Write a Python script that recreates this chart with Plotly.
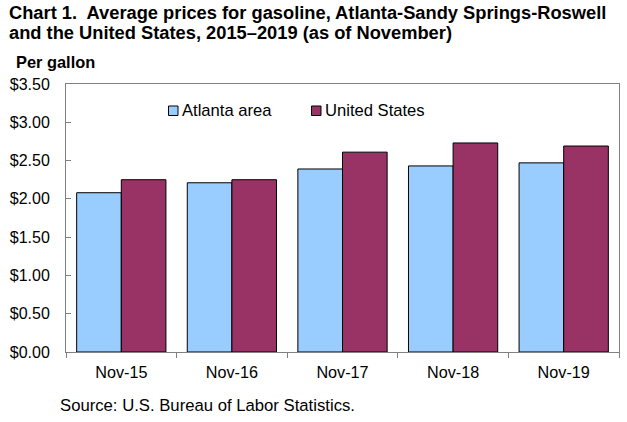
import plotly.graph_objects as go

categories = ["Nov-15", "Nov-16", "Nov-17", "Nov-18", "Nov-19"]
atlanta = [2.08, 2.21, 2.39, 2.43, 2.47]
us = [2.25, 2.25, 2.61, 2.73, 2.69]
series_names = ["Atlanta area", "United States"]
series_colors = ["#99CCFF", "#993366"]
tick_vals = [0, 0.5, 1, 1.5, 2, 2.5, 3, 3.5]
tick_text = ["$0.00", "$0.50", "$1.00", "$1.50", "$2.00", "$2.50", "$3.00", "$3.50"]
FONT = "Liberation Sans, Arial, sans-serif"
W, H = 627, 422
L, R, T, B = 66, 8, 84, 70
GRAY = "#808080"

def px(x):
    return (x - L) / (W - L - R)

def py(y):
    return 1 - (y - T) / (H - T - B)

def label(text, x, y, size, anchor="left"):
    return dict(text=text, xref="paper", yref="paper", x=px(x), y=py(y), xanchor=anchor,
                yanchor="middle", showarrow=False, align="left", font=dict(size=size, color="#000000"),
                borderpad=0)

fig = go.Figure()
fig.add_trace(go.Bar(x=categories, y=atlanta, name=series_names[0],
                     marker=dict(color=series_colors[0], line=dict(color="#000000", width=1))))
fig.add_trace(go.Bar(x=categories, y=us, name=series_names[1],
                     marker=dict(color=series_colors[1], line=dict(color="#000000", width=1))))

shapes = []
for x0, col in zip([168.5, 311.5], series_colors):
    shapes.append(dict(type="rect", xref="paper", yref="paper", x0=px(x0), x1=px(x0 + 9.5),
                       y0=py(115.5), y1=py(106), fillcolor=col, line=dict(color="#000000", width=1)))

fig.update_layout(
    width=W, height=H, barmode="group", bargap=0.193, bargroupgap=0,
    margin=dict(l=L, r=R, t=T, b=B, pad=0),
    paper_bgcolor="white", plot_bgcolor="white",
    font=dict(family=FONT, size=16, color="#000000"),
    showlegend=False,
    shapes=shapes,
    xaxis=dict(showline=True, linecolor=GRAY, linewidth=1, mirror=True, ticks="outside", ticklen=5,
               tickcolor=GRAY, tickwidth=1, tickson="boundaries", tickfont=dict(size=16.2),
               ticklabelstandoff=6, showgrid=False, zeroline=False),
    yaxis=dict(range=[0, 3.5], tickvals=tick_vals, ticktext=tick_text, showline=True, linecolor=GRAY,
               linewidth=1, mirror=True, ticks="inside", ticklen=5, tickcolor=GRAY, tickwidth=1,
               showgrid=False, zeroline=False, tickfont=dict(size=16), ticklabelstandoff=12),
    annotations=[
        label("<b>Chart 1.  Average prices for gasoline, Atlanta-Sandy Springs-Roswell</b>", 8, 12, 18.3),
        label("<b>and the United States, 2015–2019 (as of November)</b>", 8, 32, 18.3),
        label("<b>Per gallon</b>", 15.5, 62, 16.4),
        label(series_names[0], 181, 110.5, 16.6),
        label(series_names[1], 324, 110.5, 16.6),
        label("Source: U.S. Bureau of Labor Statistics.", 59, 405, 16.7),
    ],
)
fig.write_html("out.html", config={"displayModeBar": False},
               post_script="document.body.style.margin='0';document.body.style.overflow='hidden';")
